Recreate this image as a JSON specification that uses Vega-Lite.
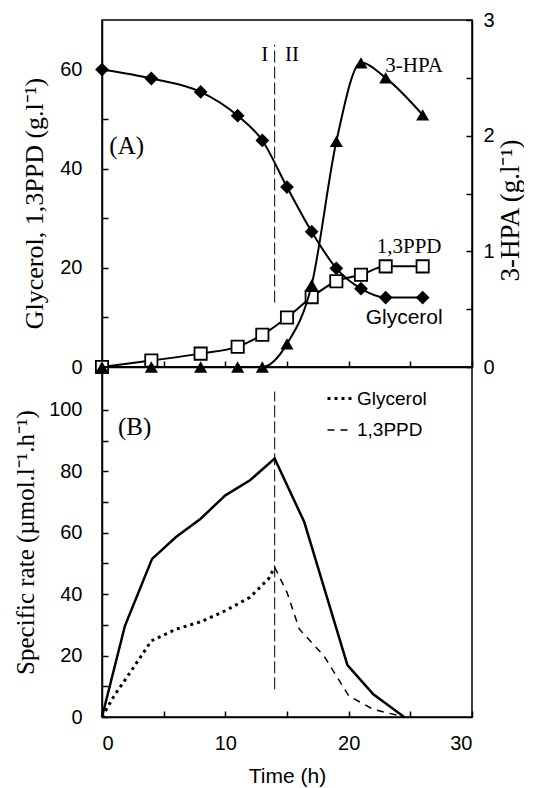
{
  "$schema": "https://vega.github.io/schema/vega-lite/v6.json",
  "background": "white",
  "padding": {"left": 12, "top": 9, "right": 0, "bottom": 0},
  "spacing": 0,
  "bounds": "flush",
  "config": {
    "view": {"stroke": "black", "strokeWidth": 1.5},
    "axis": {
      "grid": false,
      "domainColor": "black", "domainWidth": 1.5,
      "tickColor": "black", "tickWidth": 1.5, "tickSize": -6,
      "labelColor": "black", "labelFont": "Liberation Sans", "labelFontSize": 20,
      "titleColor": "black", "titleFont": "Liberation Serif", "titleFontSize": 24, "titleFontWeight": "normal"
    },
    "text": {"color": "black"}
  },
  "datasets": {
    "conc": [
      {"t": 0, "series": "Glycerol", "v": 60.0},
      {"t": 4, "series": "Glycerol", "v": 58.2},
      {"t": 8, "series": "Glycerol", "v": 55.5},
      {"t": 11, "series": "Glycerol", "v": 50.7},
      {"t": 13, "series": "Glycerol", "v": 45.7},
      {"t": 15, "series": "Glycerol", "v": 36.3},
      {"t": 17, "series": "Glycerol", "v": 27.3},
      {"t": 19, "series": "Glycerol", "v": 19.9},
      {"t": 21, "series": "Glycerol", "v": 15.8},
      {"t": 23, "series": "Glycerol", "v": 14.0},
      {"t": 26, "series": "Glycerol", "v": 14.0},
      {"t": 0, "series": "1,3PPD", "v": 0.0},
      {"t": 4, "series": "1,3PPD", "v": 1.3},
      {"t": 8, "series": "1,3PPD", "v": 2.7},
      {"t": 11, "series": "1,3PPD", "v": 4.1},
      {"t": 13, "series": "1,3PPD", "v": 6.5},
      {"t": 15, "series": "1,3PPD", "v": 10.0},
      {"t": 17, "series": "1,3PPD", "v": 14.1},
      {"t": 19, "series": "1,3PPD", "v": 17.3},
      {"t": 21, "series": "1,3PPD", "v": 18.6},
      {"t": 23, "series": "1,3PPD", "v": 20.3},
      {"t": 26, "series": "1,3PPD", "v": 20.3}
    ],
    "hpa": [
      {"t": 0, "v": 0.0},
      {"t": 4, "v": 0.0},
      {"t": 8, "v": 0.0},
      {"t": 11, "v": 0.0},
      {"t": 13, "v": 0.0},
      {"t": 15, "v": 0.2},
      {"t": 17, "v": 0.71},
      {"t": 19, "v": 1.95},
      {"t": 21, "v": 2.63},
      {"t": 23, "v": 2.5},
      {"t": 26, "v": 2.18}
    ],
    "total": [
      {"t": 0, "v": 0},
      {"t": 1.86, "v": 29.7},
      {"t": 4.06, "v": 51.5},
      {"t": 6, "v": 58.6},
      {"t": 8, "v": 64.6},
      {"t": 10, "v": 72.2},
      {"t": 12, "v": 77.1},
      {"t": 14, "v": 84.2},
      {"t": 16.4, "v": 63.5},
      {"t": 18.2, "v": 39.5},
      {"t": 19.9, "v": 16.9},
      {"t": 22, "v": 7.4},
      {"t": 24.5, "v": 0}
    ],
    "rate": [
      {"t": 0, "series": "Glycerol", "v": 0},
      {"t": 1, "series": "Glycerol", "v": 7},
      {"t": 2.65, "series": "Glycerol", "v": 16.7},
      {"t": 4, "series": "Glycerol", "v": 24.8},
      {"t": 6, "series": "Glycerol", "v": 28.6},
      {"t": 8, "series": "Glycerol", "v": 31.0},
      {"t": 10, "series": "Glycerol", "v": 34.6},
      {"t": 12, "series": "Glycerol", "v": 39.0},
      {"t": 13.5, "series": "Glycerol", "v": 45.0},
      {"t": 14, "series": "Glycerol", "v": 48.8},
      {"t": 14, "series": "1,3PPD", "v": 48.8},
      {"t": 15, "series": "1,3PPD", "v": 40.6},
      {"t": 16, "series": "1,3PPD", "v": 28.6},
      {"t": 18, "series": "1,3PPD", "v": 19.9},
      {"t": 20, "series": "1,3PPD", "v": 6.9},
      {"t": 22, "series": "1,3PPD", "v": 2.5},
      {"t": 24.5, "series": "1,3PPD", "v": 0}
    ],
    "phaseA": [{"t": 14, "lo": 13, "hi": 65}],
    "phaseB": [{"t": 14, "lo": 9, "hi": 106}],
    "notesA": [
      {"t": 2.0, "v": 44.6, "label": "(A)"},
      {"t": 13.2, "v": 63, "label": "I"},
      {"t": 15.4, "v": 63, "label": "II"},
      {"t": 25.3, "v": 60.7, "label": "3-HPA"},
      {"t": 24.9, "v": 24.2, "label": "1,3PPD"},
      {"t": 24.5, "v": 9.8, "label": "Glycerol"}
    ],
    "notesB": [
      {"t": 2.65, "v": 94.5, "label": "(B)"}
    ]
  },
  "vconcat": [
    {
      "width": 370,
      "height": 347,
      "resolve": {"scale": {"y": "independent"}},
      "layer": [
        {
          "layer": [
            {
              "data": {"name": "phaseA"},
              "mark": {"type": "rule", "color": "black", "strokeWidth": 1, "strokeDash": [12, 4]},
              "encoding": {
                "x": {"field": "t", "type": "quantitative"},
                "y": {"field": "lo", "type": "quantitative"},
                "y2": {"field": "hi"}
              }
            },
            {
              "data": {"name": "conc"},
              "transform": [{"filter": "datum.series === 'Glycerol'"}],
              "mark": {"type": "line", "color": "black", "strokeWidth": 2, "interpolate": "monotone"},
              "encoding": {
                "x": {"field": "t", "type": "quantitative"},
                "y": {"field": "v", "type": "quantitative"}
              }
            },
            {
              "data": {"name": "conc"},
              "transform": [{"filter": "datum.series === '1,3PPD'"}],
              "mark": {"type": "line", "color": "black", "strokeWidth": 2, "interpolate": "monotone"},
              "encoding": {
                "x": {"field": "t", "type": "quantitative"},
                "y": {"field": "v", "type": "quantitative"}
              }
            },
            {
              "data": {"name": "conc"},
              "transform": [{"filter": "datum.series === 'Glycerol'"}],
              "mark": {"type": "point", "shape": "diamond", "filled": true, "color": "black", "opacity": 1, "size": 190},
              "encoding": {
                "x": {"field": "t", "type": "quantitative"},
                "y": {"field": "v", "type": "quantitative"}
              }
            },
            {
              "data": {"name": "conc"},
              "transform": [{"filter": "datum.series === '1,3PPD'"}],
              "mark": {"type": "point", "shape": "square", "filled": true, "fill": "white", "stroke": "black", "strokeWidth": 1.8, "opacity": 1, "size": 150},
              "encoding": {
                "x": {"field": "t", "type": "quantitative"},
                "y": {"field": "v", "type": "quantitative"}
              }
            },
            {
              "data": {"name": "notesA"},
              "transform": [{"filter": "datum.label === 'I' || datum.label === 'II' || datum.label === '3-HPA' || datum.label === '1,3PPD'"}],
              "mark": {"type": "text", "font": "Liberation Serif", "fontSize": 21, "align": "center", "baseline": "middle"},
              "encoding": {
                "x": {"field": "t", "type": "quantitative"},
                "y": {"field": "v", "type": "quantitative"},
                "text": {"field": "label"}
              }
            },
            {
              "data": {"name": "notesA"},
              "transform": [{"filter": "datum.label === '(A)'"}],
              "mark": {"type": "text", "font": "Liberation Serif", "fontSize": 25, "align": "center", "baseline": "middle"},
              "encoding": {
                "x": {"field": "t", "type": "quantitative"},
                "y": {"field": "v", "type": "quantitative"},
                "text": {"field": "label"}
              }
            },
            {
              "data": {"name": "notesA"},
              "transform": [{"filter": "datum.label === 'Glycerol'"}],
              "mark": {"type": "text", "font": "Liberation Sans", "fontSize": 21, "align": "center", "baseline": "middle"},
              "encoding": {
                "x": {"field": "t", "type": "quantitative"},
                "y": {"field": "v", "type": "quantitative"},
                "text": {"field": "label"}
              }
            }
          ],
          "encoding": {
            "x": {
              "field": "t", "type": "quantitative",
              "scale": {"domain": [0, 30], "nice": false},
              "axis": {"values": [0, 5, 10, 15, 20, 25, 30], "labels": false, "title": null}
            },
            "y": {
              "field": "v", "type": "quantitative",
              "scale": {"domain": [0, 70], "nice": false},
              "axis": {
                "values": [0, 10, 20, 30, 40, 50, 60],
                "labelExpr": "datum.value % 20 === 0 ? datum.label : ''",
                "labelPadding": 26,
                "title": "Glycerol, 1,3PPD (g.l⁻¹)",
                "titleFontSize": 26,
                "titlePadding": 12,
                "titleY": 183
              }
            }
          }
        },
        {
          "data": {"name": "hpa"},
          "layer": [
            {
              "mark": {"type": "line", "color": "black", "strokeWidth": 2, "interpolate": "monotone"},
              "encoding": {
                "x": {"field": "t", "type": "quantitative"},
                "y": {"field": "v", "type": "quantitative"}
              }
            },
            {
              "mark": {"type": "point", "shape": "triangle-up", "filled": true, "color": "black", "opacity": 1, "size": 170},
              "encoding": {
                "x": {"field": "t", "type": "quantitative"},
                "y": {"field": "v", "type": "quantitative"}
              }
            }
          ],
          "encoding": {
            "x": {
              "field": "t", "type": "quantitative",
              "scale": {"domain": [0, 30], "nice": false},
              "axis": {"values": [0, 5, 10, 15, 20, 25, 30], "labels": false, "title": null}
            },
            "y": {
              "field": "v", "type": "quantitative",
              "scale": {"domain": [0, 3], "nice": false},
              "axis": {
                "orient": "right",
                "values": [0, 0.5, 1, 1.5, 2, 2.5, 3],
                "labelExpr": "datum.value % 1 === 0 ? format(datum.value, 'd') : ''",
                "labelPadding": 17,
                "title": "3-HPA (g.l⁻¹)",
                "titleFontSize": 27,
                "titleAngle": 270,
                "titlePadding": 30,
                "titleY": 190
              }
            }
          }
        }
      ]
    },
    {
      "width": 370,
      "height": 350,
      "layer": [
        {
          "data": {"name": "phaseB"},
          "mark": {"type": "rule", "color": "black", "strokeWidth": 1, "strokeDash": [12, 4]},
          "encoding": {
            "x": {"field": "t", "type": "quantitative"},
            "y": {"field": "lo", "type": "quantitative"},
            "y2": {"field": "hi"}
          }
        },
        {
          "data": {"name": "total"},
          "mark": {"type": "line", "color": "black", "strokeWidth": 2.5},
          "encoding": {
            "x": {"field": "t", "type": "quantitative"},
            "y": {"field": "v", "type": "quantitative"}
          }
        },
        {
          "data": {"name": "rate"},
          "mark": {"type": "line", "color": "black"},
          "encoding": {
            "x": {"field": "t", "type": "quantitative"},
            "y": {"field": "v", "type": "quantitative"},
            "detail": {"field": "series"},
            "strokeDash": {
              "field": "series", "type": "nominal",
              "scale": {"domain": ["Glycerol", "1,3PPD"], "range": [[3, 4], [7, 6]]},
              "legend": {
                "orient": "none", "legendX": 224, "legendY": 365,
                "title": null, "symbolType": "stroke", "symbolSize": 576,
                "symbolStrokeColor": "black", "labelFont": "Liberation Sans", "labelFontSize": 19,
                "labelColor": "black", "labelOffset": 4, "rowPadding": 8
              }
            },
            "strokeWidth": {
              "field": "series", "type": "nominal",
              "scale": {"domain": ["Glycerol", "1,3PPD"], "range": [3, 1.5]},
              "legend": {
                "orient": "none", "legendX": 224, "legendY": 365,
                "title": null, "symbolType": "stroke", "symbolSize": 576,
                "symbolStrokeColor": "black", "labelFont": "Liberation Sans", "labelFontSize": 19,
                "labelColor": "black", "labelOffset": 4, "rowPadding": 8
              }
            }
          }
        },
        {
          "data": {"name": "notesB"},
          "mark": {"type": "text", "font": "Liberation Serif", "fontSize": 25, "align": "center", "baseline": "middle"},
          "encoding": {
            "x": {"field": "t", "type": "quantitative"},
            "y": {"field": "v", "type": "quantitative"},
            "text": {"field": "label"}
          }
        }
      ],
      "encoding": {
        "x": {
          "field": "t", "type": "quantitative",
          "scale": {"domain": [0, 30], "nice": false},
          "axis": {
            "values": [0, 5, 10, 15, 20, 25, 30],
            "labelExpr": "datum.value % 10 === 0 ? datum.label : ''",
            "labelPadding": 22,
            "title": "Time (h)",
            "titleFont": "Liberation Sans",
            "titleFontSize": 21,
            "titlePadding": 12
          }
        },
        "y": {
          "field": "v", "type": "quantitative",
          "scale": {"domain": [0, 114], "nice": false},
          "axis": {
            "values": [0, 10, 20, 30, 40, 50, 60, 70, 80, 90, 100],
            "labelExpr": "datum.value % 20 === 0 ? datum.label : ''",
            "labelPadding": 26,
            "title": "Specific rate (µmol.l⁻¹.h⁻¹)",
            "titleFontSize": 25,
            "titlePadding": 10
          }
        }
      }
    }
  ]
}
